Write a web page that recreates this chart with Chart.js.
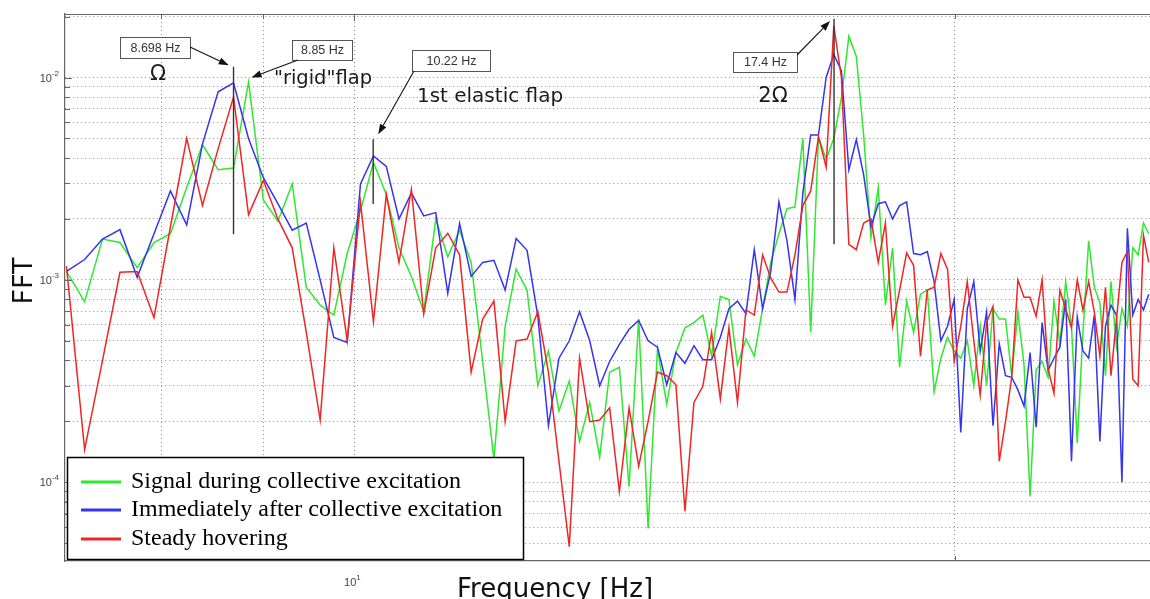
<!DOCTYPE html>
<html>
<head>
<meta charset="utf-8">
<script src="https://cdn.jsdelivr.net/npm/chart.js@4.4.1/dist/chart.umd.min.js"></script>
<style>
  html, body { margin: 0; padding: 0; background: #fff; }
  #wrap { width: 1150px; height: 599px; position: relative; }
</style>
</head>
<body>
<div id="wrap"><canvas id="fft" width="1150" height="599"></canvas></div>
<script>
// FFT bin frequencies [Hz]
const FREQ = [
  7.172, 7.324, 7.477, 7.629, 7.782, 7.935, 8.087, 8.240, 8.392, 8.545,
  8.698, 8.850, 9.003, 9.155, 9.308, 9.460, 9.613, 9.766, 9.918, 10.071,
  10.223, 10.376, 10.529, 10.681, 10.834, 10.986, 11.139, 11.292, 11.444, 11.597,
  11.749, 11.902, 12.054, 12.207, 12.360, 12.512, 12.665, 12.817, 12.970, 13.123,
  13.275, 13.428, 13.580, 13.733, 13.886, 14.038, 14.191, 14.343, 14.496, 14.648,
  14.801, 14.954, 15.106, 15.259, 15.411, 15.564, 15.717, 15.869, 16.022, 16.174,
  16.327, 16.480, 16.632, 16.785, 16.937, 17.090, 17.242, 17.395, 17.548, 17.700,
  17.853, 18.005, 18.158, 18.311, 18.463, 18.616, 18.768, 18.921, 19.074, 19.226,
  19.379, 19.531, 19.684, 19.836, 19.989, 20.142, 20.294, 20.447, 20.599, 20.752,
  20.905, 21.057, 21.210, 21.362, 21.515, 21.668, 21.820, 21.973, 22.125, 22.278,
  22.430, 22.583, 22.736, 22.888, 23.041, 23.193, 23.346, 23.499, 23.651, 23.804,
  23.956, 24.109, 24.261, 24.414, 24.567, 24.719, 24.872, 25.024
];

// Spectrum during collective excitation
const DURING_EXCITATION = [
  1.1e-3, 7.8e-4, 1.59e-3, 1.53e-3, 1.15e-3, 1.53e-3, 1.69e-3, 2.86e-3, 4.65e-3, 3.5e-3,
  3.57e-3, 9.5e-3, 2.48e-3, 1.95e-3, 2.98e-3, 9.2e-4, 7.5e-4, 6.7e-4, 1.35e-3, 2.2e-3,
  3.8e-3, 2.64e-3, 1.44e-3, 1.04e-3, 6.95e-4, 2.0e-3, 1.3e-3, 1.76e-3, 1.22e-3, 3.95e-4,
  1.3e-4, 5.9e-4, 1.13e-3, 8.9e-4, 3.0e-4, 4.45e-4, 2.25e-4, 3.16e-4, 1.59e-4, 2.48e-4,
  1.33e-4, 3.5e-4, 3.7e-4, 9.5e-5, 6.4e-4, 5.9e-5, 4.55e-4, 2.43e-4, 4.37e-4, 5.8e-4,
  6.15e-4, 6.7e-4, 4.2e-4, 8.3e-4, 8.0e-4, 3.8e-4, 5.1e-4, 4.2e-4, 7.2e-4, 1.22e-3,
  1.69e-3, 2.25e-3, 2.29e-3, 5.0e-3, 5.5e-4, 5.1e-3, 3.95e-3, 5.0e-3, 7.9e-3, 1.6e-2,
  1.27e-2, 5.2e-3, 1.62e-3, 2.86e-3, 7.5e-4, 1.44e-3, 3.7e-4, 7.85e-4, 5.5e-4, 8.5e-4,
  8.9e-4, 2.8e-4, 4.1e-4, 5.2e-4, 4.45e-4, 4.1e-4, 5.0e-4, 3.0e-4, 5.9e-4, 3.0e-4,
  7.2e-4, 6.4e-4, 6.4e-4, 3.36e-4, 6.95e-4, 3.8e-4, 8.5e-5, 3.6e-4, 3.95e-4, 3.3e-4,
  7.85e-4, 4.83e-4, 9.8e-4, 5.9e-4, 1.56e-4, 5.5e-4, 1.56e-3, 9.2e-4, 7.7e-4, 3.36e-4,
  9.8e-4, 4.65e-4, 7.2e-4, 5.9e-4, 1.44e-3, 1.33e-3, 1.91e-3, 1.69e-3
];

// Spectrum immediately after collective excitation
const AFTER_EXCITATION = [
  1.1e-3, 1.26e-3, 1.59e-3, 1.77e-3, 1.03e-3, 1.69e-3, 2.75e-3, 1.87e-3, 4.7e-3, 8.5e-3,
  9.4e-3, 5.0e-3, 3.2e-3, 2.38e-3, 1.76e-3, 1.91e-3, 1.0e-3, 5.2e-4, 4.9e-4, 2.98e-3,
  4.1e-3, 3.64e-3, 2.0e-3, 2.69e-3, 2.07e-3, 2.15e-3, 8.6e-4, 1.9e-3, 1.04e-3, 1.22e-3,
  1.25e-3, 8.9e-4, 1.6e-3, 1.4e-3, 6.6e-4, 1.9e-4, 4.1e-4, 5.0e-4, 6.95e-4, 5.0e-4,
  3.0e-4, 3.95e-4, 4.8e-4, 5.7e-4, 6.3e-4, 5.0e-4, 4.65e-4, 3.03e-4, 4.37e-4, 3.87e-4,
  4.73e-4, 4.03e-4, 4.03e-4, 5.2e-4, 7.2e-4, 7.85e-4, 6.8e-4, 1.41e-3, 7.2e-4, 1.1e-3,
  2.43e-3, 1.56e-3, 8.0e-4, 2.7e-3, 5.2e-3, 5.2e-3, 1.0e-2, 1.3e-2, 1.08e-2, 3.5e-3,
  4.93e-3, 3.3e-3, 1.83e-3, 2.38e-3, 2.43e-3, 2.0e-3, 2.33e-3, 2.43e-3, 1.35e-3, 1.33e-3,
  1.38e-3, 9.8e-4, 5.0e-4, 5.9e-4, 8.0e-4, 1.76e-4, 7.2e-4, 9.8e-4, 4.45e-4, 6.95e-4,
  1.9e-4, 4.83e-4, 3.36e-4, 3.3e-4, 2.86e-4, 2.38e-4, 4.37e-4, 1.87e-4, 6.15e-4, 3.57e-4,
  4.1e-4, 4.65e-4, 8.0e-4, 1.27e-4, 6.55e-4, 4.45e-4, 4.1e-4, 6.7e-4, 1.59e-4, 5.9e-4,
  7.5e-4, 6.7e-4, 1.0e-4, 1.8e-3, 6.7e-4, 8.0e-4, 7.1e-4, 8.5e-4
];

// Spectrum in steady hover
const STEADY_HOVER = [
  1.17e-3, 1.45e-4, 4.0e-4, 1.09e-3, 1.1e-3, 6.5e-4, 1.83e-3, 5.0e-3, 2.33e-3, 4.45e-3,
  8.0e-3, 2.1e-3, 3.1e-3, 2.0e-3, 1.44e-3, 5.5e-4, 2.03e-4, 1.44e-3, 5.0e-4, 2.43e-3,
  6.2e-4, 2.64e-3, 1.22e-3, 2.8e-3, 6.8e-4, 1.44e-3, 1.7e-3, 1.33e-3, 3.5e-4, 6.4e-4,
  7.85e-4, 2.0e-4, 5.0e-4, 5.1e-4, 6.95e-4, 3.5e-4, 1.27e-4, 4.8e-5, 4.1e-4, 1.99e-4,
  2.03e-4, 2.33e-4, 9.0e-5, 2.33e-4, 1.2e-4, 2.0e-4, 3.5e-4, 3.36e-4, 3.03e-4, 7.2e-5,
  2.48e-4, 2.98e-4, 5.5e-4, 2.58e-4, 5.8e-4, 2.48e-4, 7.1e-4, 6.7e-4, 1.33e-3, 1.02e-3,
  8.7e-4, 8.7e-4, 1.33e-3, 2.33e-3, 2.75e-3, 5.1e-3, 3.6e-3, 1.8e-2, 1.0e-2, 1.5e-3,
  1.41e-3, 1.91e-3, 2.0e-3, 1.22e-3, 1.91e-3, 5.9e-4, 8.9e-4, 1.36e-3, 1.18e-3, 4.2e-4,
  8.9e-4, 9.2e-4, 1.35e-3, 1.13e-3, 3.95e-4, 5.9e-4, 9.8e-4, 5.0e-4, 2.69e-4, 6.15e-4,
  7.4e-4, 1.27e-4, 2.0e-4, 3.3e-4, 1.0e-3, 8.2e-4, 8.2e-4, 6.6e-4, 1.0e-3, 3.64e-4,
  2.75e-4, 8.9e-4, 7.2e-4, 5.8e-4, 1.0e-3, 7.1e-4, 9.8e-4, 6.95e-4, 4.2e-4, 9.2e-4,
  3.36e-4, 6.4e-4, 1.22e-3, 1.38e-3, 3.23e-4, 3.0e-4, 1.66e-3, 1.22e-3
];

const SERIES_NAMES = [
  'Signal during collective excitation',
  'Immediately after collective excitation',
  'Steady hovering'
];

// Grid / tick positions of the log axes
const X_GRID = [8, 9, 10, 20];
const Y_GRID = [
  5e-5, 6e-5, 7e-5, 8e-5, 9e-5,
  1e-4, 2e-4, 3e-4, 4e-4, 5e-4, 6e-4, 7e-4, 8e-4, 9e-4,
  1e-3, 2e-3, 3e-3, 4e-3, 5e-3, 6e-3, 7e-3, 8e-3, 9e-3,
  1e-2, 2e-2
];
const X_TICK_LABELS = [{ value: 10, exp: '1' }];
const Y_TICK_LABELS = [{ value: 1e-2, exp: '-2' }, { value: 1e-3, exp: '-3' }, { value: 1e-4, exp: '-4' }];

// Peak frequencies marked with vertical cursors [Hz] and their extent
const PEAK_LINES = [
  { f: 8.698, lo: 1.68e-3, hi: 1.13e-2 },
  { f: 10.22, lo: 2.37e-3, hi: 4.96e-3 },
  { f: 17.4,  lo: 1.5e-3,  hi: 1.95e-2 }
];

// Boxed read-outs with arrows pointing at the peaks
const CALLOUTS = [
  { label: '8.698 Hz', box: [120, 37, 70, 21], tail: [190, 47], tip: { f: 8.65, v: 1.15e-2 } },
  { label: '8.85 Hz',  box: [292, 40, 60, 20], tail: [298, 60], tip: { f: 8.88, v: 1.0e-2 } },
  { label: '10.22 Hz', box: [412, 50, 78, 21], tail: [414, 71], tip: { f: 10.28, v: 5.25e-3 } },
  { label: '17.4 Hz',  box: [733, 52, 64, 20], tail: [797, 55], tip: { f: 17.32, v: 1.9e-2 } }
];

const NOTES = [
  { text: 'Ω', x: 158, y: 75, size: 21 },
  { text: '"rigid"flap', x: 323, y: 79, size: 19.5 },
  { text: '1st elastic flap', x: 490, y: 97, size: 20 },
  { text: '2Ω', x: 773, y: 97, size: 21 }
];

const COLORS = ['#2fe82f', '#3434f2', '#f22525'];
const GRID_COLOR = '#8f8f8f';
const FRAME_COLOR = '#666666';

function arrow(ctx, x1, y1, x2, y2) {
  const a = Math.atan2(y2 - y1, x2 - x1), L = 10, W = 3.6;
  const bx = x2 - L * Math.cos(a), by = y2 - L * Math.sin(a);
  ctx.beginPath(); ctx.moveTo(x1, y1); ctx.lineTo(bx, by); ctx.stroke();
  ctx.beginPath();
  ctx.moveTo(x2, y2);
  ctx.lineTo(bx + W * Math.sin(a), by - W * Math.cos(a));
  ctx.lineTo(bx - W * Math.sin(a), by + W * Math.cos(a));
  ctx.closePath(); ctx.fill();
}

const decorations = {
  id: 'fftDecorations',
  afterDatasetsDraw(chart) {
    const { ctx, chartArea: ca, scales: { x, y } } = chart;
    ctx.save();

    // frame line across the top and inward tick marks
    ctx.strokeStyle = FRAME_COLOR;
    ctx.lineWidth = 1.2;
    ctx.beginPath(); ctx.moveTo(ca.left, ca.top + 0.5); ctx.lineTo(ca.right, ca.top + 0.5); ctx.stroke();
    ctx.lineWidth = 1;
    Y_GRID.forEach(v => {
      const py = Math.round(y.getPixelForValue(v)) + 0.5;
      const len = Y_TICK_LABELS.some(t => t.value === v) ? 7 : 5;
      ctx.beginPath(); ctx.moveTo(ca.left, py); ctx.lineTo(ca.left + len, py); ctx.stroke();
    });
    X_GRID.forEach(v => {
      const px = Math.round(x.getPixelForValue(v)) + 0.5;
      const len = v === 10 ? 7 : 5;
      ctx.beginPath(); ctx.moveTo(px, ca.bottom); ctx.lineTo(px, ca.bottom - len); ctx.stroke();
      ctx.beginPath(); ctx.moveTo(px, ca.top); ctx.lineTo(px, ca.top + len); ctx.stroke();
    });

    // vertical peak cursors
    ctx.strokeStyle = '#333';
    ctx.lineWidth = 1.4;
    PEAK_LINES.forEach(p => {
      const px = x.getPixelForValue(p.f);
      ctx.beginPath();
      ctx.moveTo(px, y.getPixelForValue(p.hi));
      ctx.lineTo(px, y.getPixelForValue(p.lo));
      ctx.stroke();
    });

    // read-out boxes and arrows
    CALLOUTS.forEach(c => {
      const [bx, by, bw, bh] = c.box;
      ctx.fillStyle = '#fff';
      ctx.fillRect(bx, by, bw, bh);
      ctx.strokeStyle = '#555';
      ctx.lineWidth = 1;
      ctx.strokeRect(bx + 0.5, by + 0.5, bw, bh);
      ctx.fillStyle = '#333';
      ctx.font = '12.5px "Liberation Sans", Arial, sans-serif';
      ctx.textAlign = 'center';
      ctx.textBaseline = 'middle';
      ctx.fillText(c.label, bx + bw / 2 + 0.5, by + bh / 2 + 1);
      ctx.strokeStyle = '#111';
      ctx.fillStyle = '#111';
      ctx.lineWidth = 1.1;
      arrow(ctx, c.tail[0], c.tail[1], x.getPixelForValue(c.tip.f), y.getPixelForValue(c.tip.v));
    });

    // peak names
    ctx.fillStyle = '#1a1a1a';
    ctx.textAlign = 'center';
    ctx.textBaseline = 'middle';
    NOTES.forEach(n => {
      ctx.font = n.size + 'px "DejaVu Sans", sans-serif';
      ctx.fillText(n.text, n.x, n.y);
    });

    // legend box
    const lg = { x: 67, y: 457, w: 456, h: 102 };
    ctx.fillStyle = '#fff';
    ctx.fillRect(lg.x, lg.y, lg.w, lg.h);
    ctx.strokeStyle = '#000';
    ctx.lineWidth = 1.5;
    ctx.strokeRect(lg.x + 0.5, lg.y + 0.5, lg.w, lg.h);
    const rows = [482, 510, 539];
    chart.data.datasets.forEach((ds, i) => {
      ctx.strokeStyle = ds.borderColor;
      ctx.lineWidth = 3;
      ctx.beginPath(); ctx.moveTo(81, rows[i]); ctx.lineTo(121, rows[i]); ctx.stroke();
      ctx.fillStyle = '#000';
      ctx.font = '24px "Liberation Serif", "Times New Roman", serif';
      ctx.textAlign = 'left';
      ctx.textBaseline = 'alphabetic';
      ctx.fillText(ds.label, 131, rows[i] + 6);
    });

    // tick labels (powers of ten)
    ctx.fillStyle = '#444';
    ctx.textBaseline = 'alphabetic';
    Y_TICK_LABELS.forEach(t => {
      const py = y.getPixelForValue(t.value);
      ctx.font = '8px "Liberation Sans", Arial, sans-serif';
      const ew = ctx.measureText(t.exp).width;
      ctx.textAlign = 'left';
      ctx.fillText(t.exp, 59 - ew, py - 2);
      ctx.font = '11px "Liberation Sans", Arial, sans-serif';
      ctx.textAlign = 'right';
      ctx.fillText('10', 59 - ew, py + 4);
    });
    X_TICK_LABELS.forEach(t => {
      const px = x.getPixelForValue(t.value);
      ctx.font = '11px "Liberation Sans", Arial, sans-serif';
      ctx.textAlign = 'right';
      ctx.fillText('10', px + 2, ca.bottom + 25);
      ctx.font = '8px "Liberation Sans", Arial, sans-serif';
      ctx.textAlign = 'left';
      ctx.fillText(t.exp, px + 2, ca.bottom + 19);
    });

    // axis titles
    ctx.fillStyle = '#111';
    ctx.font = '26px "DejaVu Sans", sans-serif';
    ctx.textAlign = 'center';
    ctx.textBaseline = 'alphabetic';
    ctx.fillText('Frequency [Hz]', 555, 597);
    ctx.save();
    ctx.translate(32, 281);
    ctx.rotate(-Math.PI / 2);
    ctx.font = '27px "DejaVu Sans", sans-serif';
    ctx.fillText('FFT', 0, 0);
    ctx.restore();

    ctx.restore();
  }
};

const series = [DURING_EXCITATION, AFTER_EXCITATION, STEADY_HOVER];

new Chart(document.getElementById('fft'), {
  type: 'line',
  data: {
    datasets: series.map((vals, i) => ({
      label: SERIES_NAMES[i],
      data: FREQ.map((f, j) => ({ x: f, y: vals[j] })),
      borderColor: COLORS[i],
      backgroundColor: COLORS[i],
      borderWidth: 1.5,
      pointRadius: 0,
      tension: 0,
      fill: false,
      order: 3 - i
    }))
  },
  options: {
    responsive: false,
    animation: false,
    devicePixelRatio: 1,
    layout: { padding: { left: 65, top: 14, right: 0, bottom: 38 } },
    plugins: { legend: { display: false }, tooltip: { enabled: false } },
    scales: {
      x: {
        type: 'logarithmic',
        min: 7.16,
        max: 25.06,
        afterBuildTicks: s => { s.ticks = X_GRID.map(v => ({ value: v })); },
        afterFit: s => { s.height = 0; },
        ticks: { display: false },
        grid: { color: GRID_COLOR, lineWidth: 1, drawTicks: false },
        border: { display: true, color: FRAME_COLOR, width: 1.2, dash: [1, 3] }
      },
      y: {
        type: 'logarithmic',
        min: 4.08e-5,
        max: 0.0206,
        afterBuildTicks: s => { s.ticks = Y_GRID.map(v => ({ value: v })); },
        afterFit: s => { s.width = 0; },
        ticks: { display: false },
        grid: { color: GRID_COLOR, lineWidth: 1, drawTicks: false },
        border: { display: true, color: FRAME_COLOR, width: 1.2, dash: [1, 3] }
      }
    }
  },
  plugins: [decorations]
});
</script>
</body>
</html>
